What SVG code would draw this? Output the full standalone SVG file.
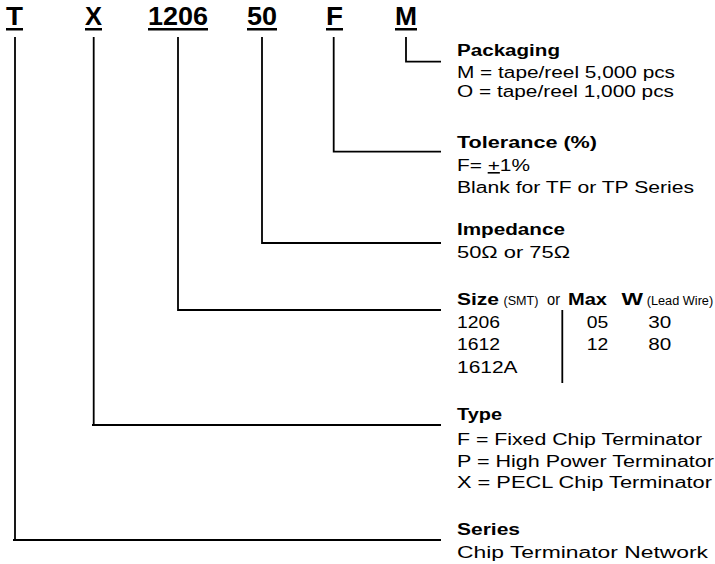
<svg xmlns="http://www.w3.org/2000/svg" width="715" height="564" viewBox="0 0 715 564">
<style>
text{font-family:"Liberation Sans",Arial,Helvetica,sans-serif;fill:#000}
.code{font-size:25px;font-weight:bold}
.h{font-size:16px;font-weight:bold}
.r{font-size:16px}
.s{font-size:12.5px}
.ul{fill:#000}
.c{stroke:#000;stroke-width:1.8;fill:none}
</style>
<rect width="715" height="564" fill="#fff"/>
<g id="codes">
<text class="code" x="6" y="25" textLength="17" lengthAdjust="spacingAndGlyphs">T</text>
<rect class="ul" x="6" y="28" width="17" height="2.5"/>
<text class="code" x="85" y="25" textLength="17" lengthAdjust="spacingAndGlyphs">X</text>
<rect class="ul" x="85" y="28" width="17" height="2.5"/>
<text class="code" x="148" y="25" textLength="60" lengthAdjust="spacingAndGlyphs">1206</text>
<rect class="ul" x="148" y="28" width="60" height="2.5"/>
<text class="code" x="247" y="25" textLength="30" lengthAdjust="spacingAndGlyphs">50</text>
<rect class="ul" x="247" y="28" width="30" height="2.5"/>
<text class="code" x="326" y="25" textLength="17" lengthAdjust="spacingAndGlyphs">F</text>
<rect class="ul" x="326" y="28" width="17" height="2.5"/>
<text class="code" x="395" y="25" textLength="22" lengthAdjust="spacingAndGlyphs">M</text>
<rect class="ul" x="395" y="28" width="22" height="2.5"/>
</g>
<g id="connectors">
<path class="c" d="M15,37 V540 M13,540 H441"/>
<path class="c" d="M93.7,37 V425 M92,425 H441"/>
<path class="c" d="M178,37 V310 H441"/>
<path class="c" d="M262,37 V243 H441"/>
<path class="c" d="M333.7,37 V151.7 H441"/>
<path class="c" d="M406,37 V61.7 H441"/>
<path class="c" d="M562.3,310 V383"/>
</g>
<g id="packaging">
<text class="h" x="457" y="56" textLength="103" lengthAdjust="spacingAndGlyphs">Packaging</text>
<text class="r" x="457" y="78" textLength="218" lengthAdjust="spacingAndGlyphs">M = tape/reel 5,000 pcs</text>
<text class="r" x="457" y="97" textLength="217" lengthAdjust="spacingAndGlyphs">O = tape/reel 1,000 pcs</text>
</g>
<g id="tolerance">
<text class="h" x="457" y="147.5" textLength="140" lengthAdjust="spacingAndGlyphs">Tolerance (%)</text>
<text class="r" x="457" y="171" textLength="73" lengthAdjust="spacingAndGlyphs">F= <tspan text-decoration="underline">+</tspan>1%</text>
<text class="r" x="457" y="193" textLength="237" lengthAdjust="spacingAndGlyphs">Blank for TF or TP Series</text>
</g>
<g id="impedance">
<text class="h" x="457" y="235" textLength="108" lengthAdjust="spacingAndGlyphs">Impedance</text>
<text class="r" x="457" y="258" textLength="113" lengthAdjust="spacingAndGlyphs">50Ω or 75Ω</text>
</g>
<g id="size">
<text class="h" x="457" y="305" textLength="42" lengthAdjust="spacingAndGlyphs">Size</text>
<text class="s" x="503.5" y="305" textLength="35" lengthAdjust="spacingAndGlyphs">(SMT)</text>
<text class="r" x="547" y="305" textLength="13" lengthAdjust="spacingAndGlyphs">or</text>
<text class="h" x="568" y="305" textLength="39" lengthAdjust="spacingAndGlyphs">Max</text>
<text class="h" x="621.5" y="305" textLength="21.5" lengthAdjust="spacingAndGlyphs">W</text>
<text class="s" x="646.7" y="305" textLength="66.5" lengthAdjust="spacingAndGlyphs">(Lead Wire)</text>
<text class="r" x="457" y="327.5" textLength="43" lengthAdjust="spacingAndGlyphs">1206</text>
<text class="r" x="586.7" y="327.5" textLength="21.5" lengthAdjust="spacingAndGlyphs">05</text>
<text class="r" x="648.3" y="327.5" textLength="23" lengthAdjust="spacingAndGlyphs">30</text>
<text class="r" x="457" y="350" textLength="43" lengthAdjust="spacingAndGlyphs">1612</text>
<text class="r" x="586.7" y="350" textLength="21.5" lengthAdjust="spacingAndGlyphs">12</text>
<text class="r" x="648.3" y="350" textLength="23" lengthAdjust="spacingAndGlyphs">80</text>
<text class="r" x="457" y="373" textLength="60.5" lengthAdjust="spacingAndGlyphs">1612A</text>
</g>
<g id="type">
<text class="h" x="457" y="419.5" textLength="45" lengthAdjust="spacingAndGlyphs">Type</text>
<text class="r" x="457" y="445" textLength="245" lengthAdjust="spacingAndGlyphs">F = Fixed Chip Terminator</text>
<text class="r" x="457" y="466.7" textLength="257" lengthAdjust="spacingAndGlyphs">P = High Power Terminator</text>
<text class="r" x="457" y="488.3" textLength="255" lengthAdjust="spacingAndGlyphs">X = PECL Chip Terminator</text>
</g>
<g id="series">
<text class="h" x="457" y="534.5" textLength="63" lengthAdjust="spacingAndGlyphs">Series</text>
<text class="r" x="457" y="558" textLength="251" lengthAdjust="spacingAndGlyphs">Chip Terminator Network</text>
</g>
</svg>
